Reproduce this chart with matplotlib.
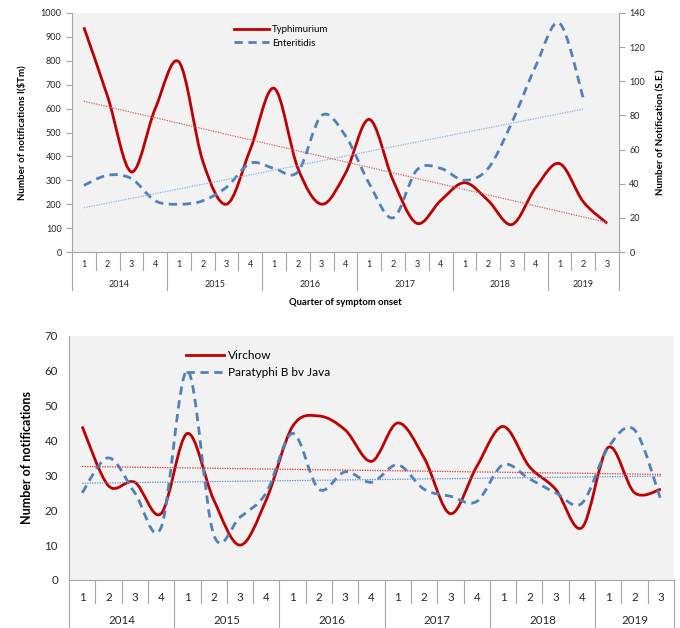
import matplotlib.pyplot as plt
import numpy as np
from matplotlib.path import Path
from matplotlib.patches import PathPatch
from matplotlib.lines import Line2D

plt.rcParams['font.family'] = ['Lato', 'DejaVu Sans']

quarters = ['1', '2', '3', '4'] * 5 + ['1', '2', '3']
years = ['2014', '2015', '2016', '2017', '2018', '2019']
year_len = [4, 4, 4, 4, 4, 3]

typhimurium = [940, 650, 335, 600, 795, 380, 200, 430, 685, 350, 200, 330,
               555, 300, 120, 215, 290, 215, 115, 270, 370, 210, 120]
enteritidis = [39, 45, 43, 30, 28, 30, 38, 52, 49, 47, 80, 68,
               40, 20, 48, 49, 42, 49, 76, 109, 134, 90]

virchow = [44, 27, 28, 19, 42, 23, 10, 23, 44, 47, 43, 34,
           45, 35, 19, 32.5, 44, 32.5, 26, 15, 38, 25, 26]
paratyphi = [25, 35, 25, 15, 60, 13, 18, 25, 42, 26, 31, 28,
             33, 26, 24, 22.5, 33, 29, 25, 22, 38, 43, 23]

RED = '#C00000'
BLUE = '#4F81BD'
GRID = '#A6A6A6'


def smooth_path(x, y):
    # excel-like smoothed line as cubic bezier
    verts = [(x[0], y[0])]
    codes = [Path.MOVETO]
    n = len(x)
    for i in range(n - 1):
        a = i - 1 if i > 0 else i
        d = i + 2 if i + 2 < n else i + 1
        c1 = (x[i] + (x[i + 1] - x[a]) / 6, y[i] + (y[i + 1] - y[a]) / 6)
        c2 = (x[i + 1] - (x[d] - x[i]) / 6, y[i + 1] - (y[d] - y[i]) / 6)
        verts += [c1, c2, (x[i + 1], y[i + 1])]
        codes += [Path.CURVE4] * 3
    return Path(verts, codes)


def draw_series(ax, values, color, ls, trend_color):
    x = np.arange(len(values))
    y = np.array(values, dtype=float)
    ax.add_patch(PathPatch(smooth_path(x, y), fill=False, edgecolor=color,
                           lw=2, linestyle=ls, capstyle='butt'))
    k, b = np.polyfit(x, y, 1)
    ax.plot(x, k * x + b, color=trend_color, lw=0.9, ls=(0, (1, 1)))


def category_axis(ax, qy, yy, qlen, ylen, fs):
    tr = ax.get_xaxis_transform()
    n = len(quarters)
    for i, q in enumerate(quarters):
        ax.text(i, qy, q, transform=tr, ha='center', va='center', fontsize=fs, color='#262626')
    bounds = np.cumsum([0] + year_len) - 0.5
    for i in range(n + 1):
        xb = i - 0.5
        if xb in bounds:
            ax.plot([xb, xb], [0, ylen], transform=tr, color=GRID, lw=0.8, clip_on=False)
        else:
            ax.plot([xb, xb], [0, qlen], transform=tr, color=GRID, lw=0.8, clip_on=False)
    for j, yr in enumerate(years):
        c = (bounds[j] + bounds[j + 1]) / 2
        ax.text(c, yy, yr, transform=tr, ha='center', va='center', fontsize=fs, color='#262626')


fig = plt.figure(figsize=(6.8, 6.28), dpi=100)

# ---------- top chart ----------
ax1 = fig.add_axes([72 / 680, 376 / 628, 547 / 680, 239 / 628])
ax1.set_facecolor('#F2F2F2')
ax1.set_xlim(-0.5, 22.5)
ax1.set_ylim(0, 1000)
ax1.set_yticks(np.arange(0, 1001, 100))
ax1.set_xticks([])
for s in ['top', 'right']:
    ax1.spines[s].set_visible(False)
ax1.spines['left'].set_color(GRID)
ax1.spines['bottom'].set_color(GRID)
ax1.tick_params(axis='y', labelsize=6.5, colors='#262626', length=4, color=GRID, width=0.8)
ax1.set_ylabel('Number of notifications I($Tm)', fontsize=7, fontweight='bold', labelpad=10)

ax2 = ax1.twinx()
ax2.set_ylim(0, 140)
ax2.set_yticks(np.arange(0, 141, 20))
for s in ['top', 'left', 'bottom']:
    ax2.spines[s].set_visible(False)
ax2.spines['right'].set_color(GRID)
ax2.tick_params(axis='y', labelsize=6.5, colors='#262626', length=4, color=GRID, width=0.8)
ax2.set_ylabel('Number of Notification (S.E.)', fontsize=7, fontweight='bold', labelpad=8)

draw_series(ax1, typhimurium, RED, '-', '#E06060')
draw_series(ax2, enteritidis, BLUE, (0, (3, 2)), '#8DB3E2')

category_axis(ax1, -0.054, -0.134, -0.075, -0.159, 6.5)
ax1.text(0.5, -0.21, 'Quarter of symptom onset', transform=ax1.transAxes, ha='center',
         va='center', fontsize=6.8, fontweight='bold')

h1 = [Line2D([], [], color=RED, lw=2), Line2D([], [], color=BLUE, lw=2, ls=(0, (3, 2)))]
ax2.legend(h1, ['Typhimurium', 'Enteritidis'], loc='upper left', bbox_to_anchor=(0.28, 0.985),
           frameon=False, fontsize=7, handlelength=3.6, handletextpad=0.3, labelspacing=0.45)

# ---------- bottom chart ----------
ax3 = fig.add_axes([69 / 680, 48 / 628, 605 / 680, 244.3 / 628])
ax3.set_facecolor('#F2F2F2')
ax3.set_xlim(-0.5, 22.5)
ax3.set_ylim(0, 70)
ax3.set_yticks(np.arange(0, 71, 10))
ax3.set_xticks([])
for s in ['top', 'right']:
    ax3.spines[s].set_visible(False)
ax3.spines['left'].set_color(GRID)
ax3.spines['bottom'].set_color(GRID)
ax3.tick_params(axis='y', labelsize=8.3, colors='#262626', length=0, pad=8)
ax3.set_ylabel('Number of notifications', fontsize=9, fontweight='bold', labelpad=8)

draw_series(ax3, virchow, RED, '-', '#E03030')
draw_series(ax3, paratyphi, BLUE, (0, (3, 2)), '#5B8BD0')

category_axis(ax3, -0.07, -0.164, -0.094, -0.192, 8.3)

h2 = [Line2D([], [], color=RED, lw=2), Line2D([], [], color=BLUE, lw=2, ls=(0, (3, 2)))]
ax3.legend(h2, ['Virchow', 'Paratyphi B bv Java'], loc='upper left', bbox_to_anchor=(0.175, 0.985),
           frameon=False, fontsize=8.5, handlelength=3.3, handletextpad=0.3, labelspacing=0.55)

fig.savefig('out.png', dpi=100)
